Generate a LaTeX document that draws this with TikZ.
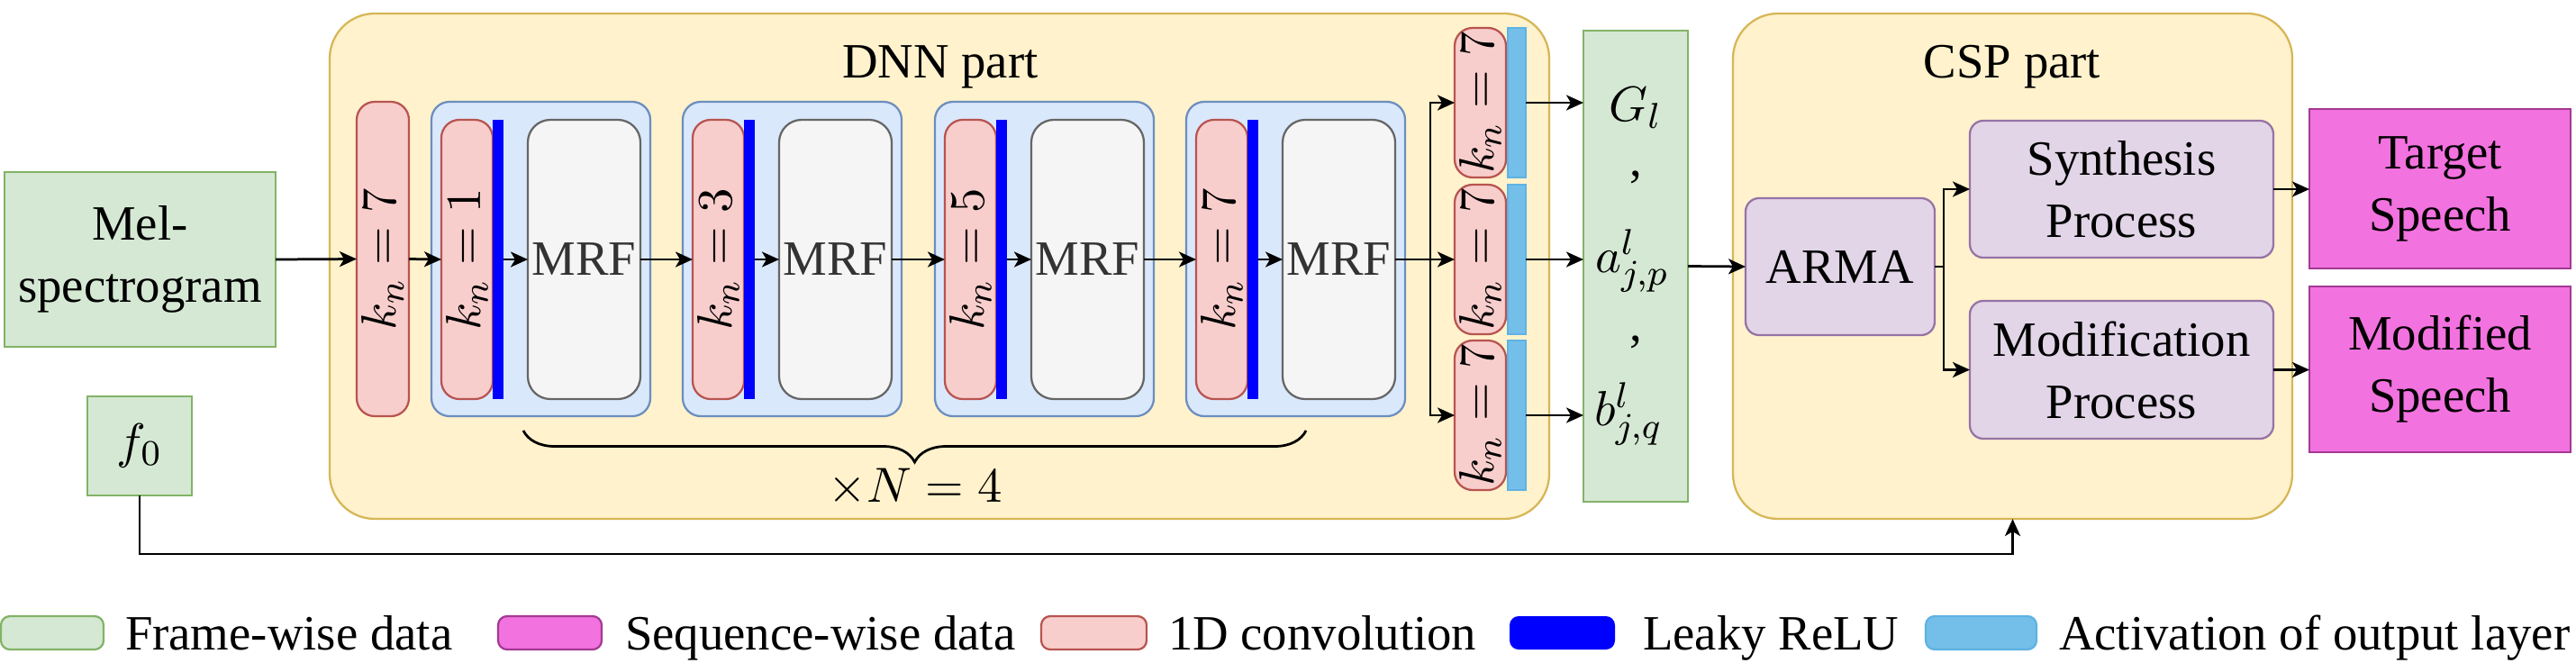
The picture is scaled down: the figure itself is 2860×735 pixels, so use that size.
\documentclass[tikz,border=0pt]{standalone}
\usepackage{fontspec}
\usepackage{graphicx}
\setmainfont{Liberation Serif}
\usetikzlibrary{arrows.meta,decorations.pathreplacing}
\definecolor{grnF}{HTML}{D5E8D4}
\definecolor{grnS}{HTML}{82B366}
\definecolor{yelF}{HTML}{FFF2CC}
\definecolor{yelS}{HTML}{D6B656}
\definecolor{redF}{HTML}{F8CECC}
\definecolor{redS}{HTML}{B85450}
\definecolor{bluF}{HTML}{DAE8FC}
\definecolor{bluS}{HTML}{6C8EBF}
\definecolor{gryF}{HTML}{F5F5F5}
\definecolor{gryS}{HTML}{666666}
\definecolor{gryT}{HTML}{333333}
\definecolor{purF}{HTML}{E1D5E7}
\definecolor{purS}{HTML}{9673A6}
\definecolor{magF}{HTML}{F272DF}
\definecolor{magS}{HTML}{A33A93}
\definecolor{lbF}{HTML}{74BFEA}
\definecolor{lbS}{HTML}{5FB2E2}
\definecolor{relB}{HTML}{0000FF}
\newcommand{\mybox}[7]{\node[#6,minimum width={(#4-#2)*0.2pt},minimum height={(#5-#3)*0.2pt}] (#1) at ({(#2+#4)/2},{(#3+#5)/2}) {#7};}
\newcommand{\kn}[1]{\rotatebox{90}{$k_n=#1$}}
\begin{document}
\begin{tikzpicture}[x=0.2pt,y=-0.2pt,
  font=\rmfamily\fontsize{10.95}{13.8}\selectfont,
  bx/.style={inner sep=0pt,outer sep=0pt,line width=0.45pt,align=center},
  grn/.style={bx,draw=grnS,fill=grnF},
  part/.style={bx,draw=yelS,fill=yelF,rounded corners=10pt},
  conv/.style={bx,draw=redS,fill=redF,rounded corners=4pt},
  blk/.style={bx,draw=bluS,fill=bluF,rounded corners=4pt},
  mrf/.style={bx,draw=gryS,fill=gryF,rounded corners=5pt,text=gryT},
  relu/.style={bx,fill=relB},
  act/.style={bx,draw=lbS,fill=lbF},
  proc/.style={bx,draw=purS,fill=purF,rounded corners=3pt},
  seq/.style={bx,draw=magS,fill=magF},
  lgd/.style={rounded corners=2pt},
  arr/.style={line width=0.55pt,-{Stealth[length=3.8pt,width=3.4pt,inset=1pt]}},
  ln/.style={line width=0.55pt},
  lbl/.style={inner sep=0pt,outer sep=0pt},
]
\useasboundingbox (0,0) rectangle (2860,735);
% containers
\mybox{dnn}{366}{15}{1720}{576}{part}{}
\mybox{csp}{1924}{15}{2545}{576}{part}{}
\node[lbl,anchor=base] (dnnT) at (1044,86) {DNN part};
\node[lbl,anchor=base] (cspT) at (2234,86) {CSP part};
% inputs
\mybox{mel}{5}{191}{306}{385}{grn}{Mel-\\spectrogram}
\mybox{f0}{97}{440}{213}{550}{grn}{$f_0$}
% first conv
\mybox{c0}{396}{113}{454}{462}{conv}{\kn{7}}
% blocks
\mybox{b1}{479}{113}{722}{462}{blk}{}
\mybox{c1}{490}{133}{547}{443}{conv}{\kn{1}}
\mybox{r1}{547}{133}{559}{443}{relu}{}
\mybox{m1}{586}{133}{711}{443}{mrf}{MRF}
\mybox{b2}{758}{113}{1001}{462}{blk}{}
\mybox{c2}{769}{133}{826}{443}{conv}{\kn{3}}
\mybox{r2}{826}{133}{838}{443}{relu}{}
\mybox{m2}{865}{133}{990}{443}{mrf}{MRF}
\mybox{b3}{1038}{113}{1281}{462}{blk}{}
\mybox{c3}{1049}{133}{1106}{443}{conv}{\kn{5}}
\mybox{r3}{1106}{133}{1118}{443}{relu}{}
\mybox{m3}{1145}{133}{1270}{443}{mrf}{MRF}
\mybox{b4}{1317}{113}{1560}{462}{blk}{}
\mybox{c4}{1328}{133}{1385}{443}{conv}{\kn{7}}
\mybox{r4}{1385}{133}{1397}{443}{relu}{}
\mybox{m4}{1424}{133}{1549}{443}{mrf}{MRF}
% output convs
\mybox{o1}{1615}{31}{1672}{197}{conv}{\kn{7}}
\mybox{o2}{1615}{205}{1672}{371}{conv}{\kn{7}}
\mybox{o3}{1615}{378}{1672}{544}{conv}{\kn{7}}
\mybox{a1}{1674}{31}{1694}{197}{act}{}
\mybox{a2}{1674}{205}{1694}{371}{act}{}
\mybox{a3}{1674}{378}{1694}{544}{act}{}
% params
\mybox{par}{1758}{34}{1874}{557}{grn}{}
\node[lbl,anchor=base] (p1) at (1816,134) {$G_l$};
\node[lbl,anchor=base] (p2) at (1816,195) {,};
\node[lbl,anchor=base] (p3) at (1812,302) {$a^l_{j,p}$};
\node[lbl,anchor=base] (p4) at (1816,378) {,};
\node[lbl,anchor=base] (p5) at (1808,472) {$b^l_{j,q}$};
% CSP
\mybox{arma}{1938}{220}{2148}{372}{proc}{ARMA}
\mybox{syn}{2187}{134}{2524}{286}{proc}{Synthesis\\Process}
\mybox{mod}{2187}{334}{2524}{487}{proc}{Modification\\Process}
\mybox{tgt}{2564}{121}{2854}{298}{seq}{Target\\Speech}
\mybox{mfd}{2564}{318}{2854}{502}{seq}{Modified\\Speech}
% brace
\coordinate (br1) at (581,478);
\coordinate (br2) at (1450,478);
\draw[ln,decorate,decoration={brace,mirror,amplitude=7pt}] (br1) -- (br2);
\node[lbl] (rep) at (1016,541) {$\times N=4$};
% connectors
\draw[arr] (mel.east) -- (c0.west);
\draw[arr] (c0.east) -- (c1.west);
\draw[arr] (r1.east) -- (m1.west);
\draw[arr] (m1.east) -- (c2.west);
\draw[arr] (r2.east) -- (m2.west);
\draw[arr] (m2.east) -- (c3.west);
\draw[arr] (r3.east) -- (m3.west);
\draw[arr] (m3.east) -- (c4.west);
\draw[arr] (r4.east) -- (m4.west);
\coordinate (sp) at (1588,288);
\draw[ln] (m4.east) -- (sp);
\draw[arr] (sp) |- (o1.west);
\draw[arr] (sp) -- (o2.west);
\draw[arr] (sp) |- (o3.west);
\draw[arr] (a1.east) -- (a1.east -| par.west);
\draw[arr] (a2.east) -- (a2.east -| par.west);
\draw[arr] (a3.east) -- (a3.east -| par.west);
\draw[arr] (par.east) -- (arma.west);
\coordinate (as) at (2158,296);
\draw[ln] (arma.east) -- (as);
\draw[arr] (as) |- (syn.west);
\draw[arr] (as) |- (mod.west);
\draw[arr] (syn.east) -- (syn.east -| tgt.west);
\draw[arr] (mod.east) -- (mod.east -| mfd.west);
\coordinate (fb) at (0,615);
\draw[arr] (f0.south) |- (fb -| csp.south) -- (csp.south);
% legend
\mybox{l1}{1}{684}{115}{721}{grn,lgd}{}
\mybox{l2}{553}{684}{668}{721}{seq,lgd}{}
\mybox{l3}{1156}{684}{1273}{721}{conv,lgd}{}
\mybox{l4}{1676}{684}{1793}{721}{relu,lgd}{}
\mybox{l5}{2138}{684}{2261}{721}{act,lgd}{}
\node[lbl,anchor=base west] (t1) at (139,721) {Frame-wise data};
\node[lbl,anchor=base west] (t2) at (694,721) {Sequence-wise data};
\node[lbl,anchor=base west] (t3) at (1297,721) {1D convolution};
\node[lbl,anchor=base west] (t4) at (1824,721) {Leaky ReLU};
\node[lbl,anchor=base west] (t5) at (2286,721) {Activation of output layer};
\end{tikzpicture}
\end{document}
